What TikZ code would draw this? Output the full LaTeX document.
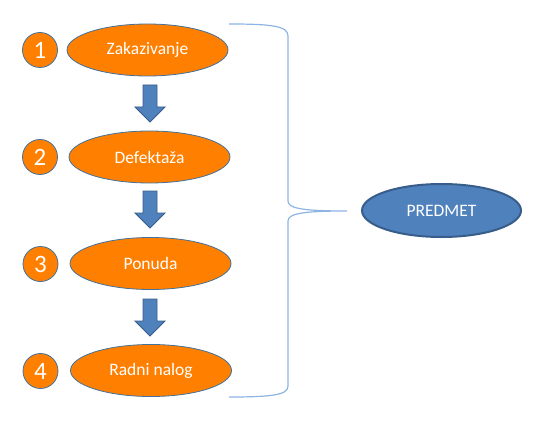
\documentclass[tikz,border=0pt]{standalone}
\usepackage{fontspec}
\setmainfont{Carlito}
\usetikzlibrary{shapes.geometric}
\definecolor{orfill}{HTML}{FF8000}
\definecolor{edgeblue}{HTML}{41719C}
\definecolor{bluefill}{HTML}{4F81BD}
\definecolor{blueedge}{HTML}{385D8A}
\definecolor{bracecol}{HTML}{8EB4E3}
\tikzset{
  stepell/.style={ellipse, draw=edgeblue, line width=0.8pt, fill=orfill, minimum width=161pt, minimum height=52pt, inner sep=0pt, text=white, font=\fontsize{17.5}{20}\selectfont},
  numcirc/.style={circle, draw=edgeblue, line width=0.8pt, fill=orfill, minimum size=35pt, inner sep=0pt, text=white, font=\fontsize{25}{28}\selectfont},
  downarrow/.style={fill=bluefill, draw=blueedge, line width=0.8pt, line join=miter},
  predell/.style={ellipse, draw=blueedge, line width=2pt, fill=bluefill, minimum width=159pt, minimum height=53pt, inner sep=0pt, text=white, font=\fontsize{17.5}{20}\selectfont},
  bracestyle/.style={draw=bracecol, line width=1.2pt}
}
\begin{document}
\begin{tikzpicture}[x=1pt,y=-1pt]
\useasboundingbox (0,0) rectangle (534,422);
\node[stepell] (e1) at (147.5,50) {Zakazivanje};
\node[stepell] (e2) at (149.5,157) {Defektaža};
\node[stepell] (e3) at (150.5,263.5) {Ponuda};
\node[stepell] (e4) at (151,370.5) {Radni nalog};
\node[numcirc] (c1) at (40,50) {1};
\node[numcirc] (c2) at (40,157) {2};
\node[numcirc] (c3) at (40.5,264) {3};
\node[numcirc] (c4) at (40.5,371) {4};
% block arrows
\foreach \t/\b in {85/122, 191/228, 299/336}{
  \draw[downarrow] (143,\t) -- (157,\t) -- (157,\b-15) -- (165,\b-15) -- (150,\b) -- (135,\b-15) -- (143,\b-15) -- cycle;
}
\node[predell] (p) at (441.5,210.5) {PREDMET};
\coordinate (btop) at (229,24);
\coordinate (bbot) at (229,397);
\coordinate (btip) at (347,211);
\draw[bracestyle] (btop) .. controls (272,24) and (288,26) .. (288,36)
  -- (288,201) .. controls (288,208) and (300,211) .. (btip)
  .. controls (300,211) and (288,214) .. (288,221)
  -- (288,386) .. controls (288,395) and (272,397) .. (bbot);
\end{tikzpicture}
\end{document}
